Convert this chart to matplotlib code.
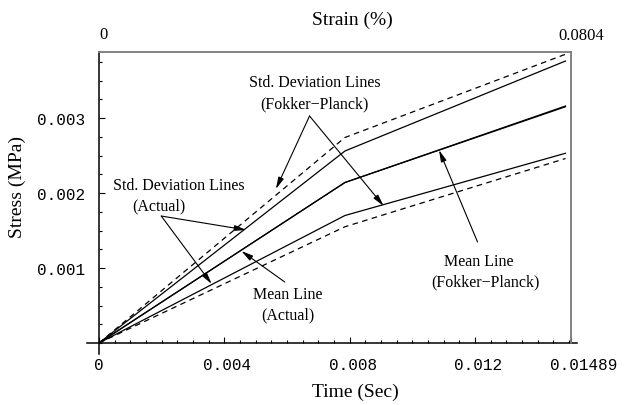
import matplotlib
matplotlib.use("Agg")
import matplotlib.pyplot as plt
import matplotlib.transforms as mtransforms
from matplotlib.ticker import MultipleLocator

# ---------------- data ----------------
time_pts = [0.0, 0.00785, 0.01489]
fp_upper = [0.0, 0.00274, 0.00385]      # Fokker-Planck std. deviation (dashed)
fp_lower = [0.0, 0.00155, 0.00246]
act_upper = [0.0, 0.00256, 0.00376]     # Actual std. deviation (solid)
act_lower = [0.0, 0.00170, 0.00253]
mean_fp = [0.0, 0.00214, 0.00315]
mean_act = [0.0, 0.00214, 0.00316]

x_max = 0.015065
y_max = 0.00388
x_ticks = [0.0, 0.004, 0.008, 0.012, x_max]
x_tick_labels = ["0", "0.004", "0.008", "0.012", "0.01489"]
y_ticks = [0.001, 0.002, 0.003]
y_tick_labels = ["0.001", "0.002", "0.003"]
top_labels = ["0", "0.0804"]

serif = "Liberation Serif"
mono = "Liberation Mono"

fig = plt.figure(figsize=(6.24, 4.06), dpi=100)
ax = fig.add_axes([99/624, 1-344/406, 472/624, 291/406])
ax.set_xlim(0, x_max)
ax.set_ylim(0, y_max)

lw = 0.9
ax.plot(time_pts, fp_upper, color="k", lw=lw, ls=(0, (4.5, 3.5)))
ax.plot(time_pts, fp_lower, color="k", lw=lw, ls=(0, (4.5, 3.5)))
ax.plot(time_pts, act_upper, color="k", lw=lw)
ax.plot(time_pts, act_lower, color="k", lw=lw)
ax.plot(time_pts, mean_fp, color="k", lw=lw)
ax.plot(time_pts, mean_act, color="k", lw=lw)

# spines
for s in ["left", "bottom"]:
    ax.spines[s].set_visible(False)
for s in ["top", "right"]:
    ax.spines[s].set_color("#7a7a7a")
    ax.spines[s].set_linewidth(1.3)
ax.plot([-12/472, 478/472], [0, 0], transform=ax.transAxes, color="k", lw=1.1, clip_on=False)
ax.plot([0, 0], [-11/291, 1.0], transform=ax.transAxes, color="k", lw=1.1, clip_on=False)

# ticks
ax.set_xticks(x_ticks)
ax.set_xticklabels(x_tick_labels, fontfamily=mono, fontsize=11.5)
ax.set_yticks(y_ticks)
ax.set_yticklabels(y_tick_labels, fontfamily=mono, fontsize=11.5)
ax.xaxis.set_minor_locator(MultipleLocator(0.0005))
ax.yaxis.set_minor_locator(MultipleLocator(0.00025))
ax.tick_params(which="both", direction="in", top=False, right=False, color="k", width=0.8)
ax.tick_params(which="major", length=4)
ax.tick_params(which="minor", length=2.5)
ax.tick_params(axis="x", which="major", pad=10)
ax.tick_params(axis="y", which="major", pad=10)

shifts = [0, 3, 3, 3, 13]
for lab, dx in zip(ax.get_xticklabels(), shifts):
    lab.set_transform(lab.get_transform() + mtransforms.ScaledTranslation(dx/100, 0, fig.dpi_scale_trans))

# top labels
ax.text(4/472, 1 + 18/291, top_labels[0], transform=ax.transAxes, ha="center", va="center",
        fontfamily=serif, fontsize=12)
ax.text(482/472, 1 + 17/291, top_labels[1], transform=ax.transAxes, ha="center", va="center",
        fontfamily=serif, fontsize=12)

# axis labels
fig.text(352/624, 1-20/406, "Strain (%)", ha="center", va="center", fontfamily=serif, fontsize=14)
fig.text(355/624, 1-392/406, "Time (Sec)", ha="center", va="center", fontfamily=serif, fontsize=14)
fig.text(17/624, 1-187/406, "Stress (MPa)", ha="center", va="center", rotation=90,
         fontfamily=serif, fontsize=14)

# annotations
fs = 11.5
arrow = dict(arrowstyle="-|>,head_length=0.7,head_width=0.17", lw=0.8, color="k",
             shrinkA=0, shrinkB=0)

ax.text(0.006877, 0.00348, "Std. Deviation Lines", ha="center", va="center", fontfamily=serif, fontsize=fs)
ax.text(0.006877, 0.00320, "(Fokker\u2212Planck)", ha="center", va="center", fontfamily=serif, fontsize=fs)
fp_apex = (0.00672, 0.003027)
ax.annotate("", xy=(0.005647, 0.002053), xytext=fp_apex, arrowprops=arrow)
ax.annotate("", xy=(0.009085, 0.001827), xytext=fp_apex, arrowprops=arrow)

ax.text(0.002555, 0.002107, "Std. Deviation Lines", ha="center", va="center", fontfamily=serif, fontsize=fs)
ax.text(0.001924, 0.00184, "(Actual)", ha="center", va="center", fontfamily=serif, fontsize=fs)
act_apex = (0.001987, 0.001693)
ax.annotate("", xy=(0.004700, 0.001507), xytext=act_apex, arrowprops=arrow)
ax.annotate("", xy=(0.003596, 0.000787), xytext=act_apex, arrowprops=arrow)

ax.text(0.006025, 0.000653, "Mean Line", ha="center", va="center", fontfamily=serif, fontsize=fs)
ax.text(0.006025, 0.000387, "(Actual)", ha="center", va="center", fontfamily=serif, fontsize=fs)
ax.annotate("", xy=(0.004543, 0.001227), xytext=(0.005931, 0.000813), arrowprops=arrow)

ax.text(0.012114, 0.001093, "Mean Line", ha="center", va="center", fontfamily=serif, fontsize=fs)
ax.text(0.012335, 0.000827, "(Fokker\u2212Planck)", ha="center", va="center", fontfamily=serif, fontsize=fs)
ax.annotate("", xy=(0.010852, 0.002573), xytext=(0.012082, 0.001347), arrowprops=arrow)

fig.savefig("out.png", dpi=100)
